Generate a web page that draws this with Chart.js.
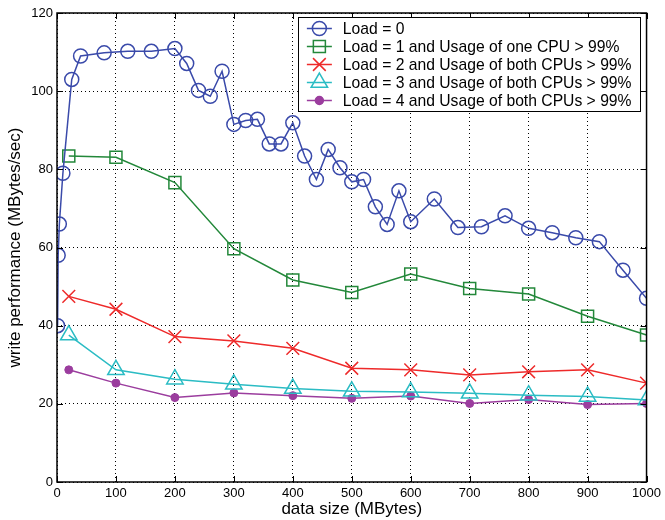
<!DOCTYPE html>
<html>
<head>
<meta charset="utf-8">
<script src="https://cdn.jsdelivr.net/npm/chart.js@4/dist/chart.umd.min.js"></script>
<style>
  html, body { margin: 0; padding: 0; background: #fff; }
  #wrap { width: 665px; height: 520px; }
</style>
</head>
<body>
<div id="wrap"><canvas id="grafico"></canvas></div>
<script>
// Dados
const xLoad0 = [1, 2, 4, 10, 25, 40, 80, 120, 160, 200, 220, 240, 260, 280, 300, 320, 340, 360, 380, 400,
                420, 440, 460, 480, 500, 520, 540, 560, 580, 600, 640, 680, 720, 760, 800, 840, 880, 920, 960, 1000];
const yLoad0 = [40, 58, 66, 79, 103, 109, 109.8, 110.2, 110.2, 110.9, 107.1, 100.2, 98.7, 105.1, 91.5, 92.5, 92.8, 86.5, 86.5, 91.9,
                83.4, 77.4, 85.1, 80.4, 76.8, 77.4, 70.4, 65.9, 74.5, 66.6, 72.4, 65.1, 65.3, 68.1, 64.9, 63.8, 62.5, 61.5, 54.2, 47.0];

const xLoads = [20, 100, 200, 300, 400, 500, 600, 700, 800, 900, 1000];
const yLoad1 = [83.4, 83.1, 76.6, 59.7, 51.7, 48.5, 53.2, 49.5, 48.1, 42.4, 37.6];
const yLoad2 = [47.5, 44.2, 37.2, 36.1, 34.2, 29.1, 28.7, 27.4, 28.2, 28.7, 25.3];
const yLoad3 = [37.6, 28.7, 26.3, 25.0, 23.9, 23.2, 23.0, 22.7, 22.2, 21.9, 21.0];
const yLoad4 = [28.7, 25.3, 21.6, 22.8, 22.1, 21.4, 22.0, 20.1, 21.1, 19.8, 20.1];

const labels = [
  'Load = 0',
  'Load = 1 and Usage of one CPU > 99%',
  'Load = 2 and Usage of both CPUs > 99%',
  'Load = 3 and Usage of both CPUs > 99%',
  'Load = 4 and Usage of both CPUs > 99%'
];

const xTitle = 'data size (MBytes)';
const yTitle = 'write performance (MBytes/sec)';

const FONT = "'Liberation Sans', Arial, Helvetica, sans-serif";

function pares(xs, ys) {
  return xs.map((x, i) => ({ x: x, y: ys[i] }));
}

// Legenda desenhada dentro da área do gráfico (estilo MATLAB)
const legendaInterna = {
  id: 'legendaInterna',
  afterDraw(chart) {
    const ctx = chart.ctx;
    const area = chart.chartArea;
    const sets = chart.data.datasets;
    ctx.save();
    ctx.font = '15.7px ' + FONT;
    let maxW = 0;
    sets.forEach(ds => { maxW = Math.max(maxW, ctx.measureText(ds.label).width); });
    const rowH = 18;
    const w = 45 + maxW + 8;
    const h = rowH * sets.length + 4;
    const right = area.right - 7;
    const top = area.top + 4;
    const left = right - w;
    ctx.fillStyle = '#fff';
    ctx.fillRect(left, top, w, h);
    ctx.strokeStyle = '#000';
    ctx.lineWidth = 1;
    ctx.strokeRect(Math.round(left) + 0.5, Math.round(top) + 0.5, Math.round(w), Math.round(h));
    sets.forEach((ds, i) => {
      const cy = top + 11.5 + i * rowH;
      ctx.strokeStyle = ds.borderColor;
      ctx.lineWidth = 1.5;
      ctx.beginPath();
      ctx.moveTo(left + 9, cy);
      ctx.lineTo(left + 34, cy);
      ctx.stroke();
      ctx.fillStyle = ds.pointBackgroundColor;
      ctx.strokeStyle = ds.borderColor;
      const opts = { pointStyle: ds.pointStyle, radius: ds.pointRadius, rotation: 0, borderWidth: 1.5 };
      if (Chart.helpers && Chart.helpers.drawPoint) {
        Chart.helpers.drawPoint(ctx, opts, left + 21.5, cy);
      }
      ctx.fillStyle = '#000';
      ctx.textBaseline = 'middle';
      ctx.textAlign = 'left';
      ctx.fillText(ds.label, left + 45, cy + 1);
    });
    ctx.restore();
  }
};

// Moldura com marcas internas
const moldura = {
  id: 'moldura',
  afterDatasetsDraw(chart) {
    const ctx = chart.ctx;
    const a = chart.chartArea;
    const sx = chart.scales.x, sy = chart.scales.y;
    ctx.save();
    ctx.strokeStyle = '#000';
    ctx.lineWidth = 1.5;
    ctx.strokeRect(a.left, a.top, a.right - a.left, a.bottom - a.top);
    ctx.lineWidth = 1;
    ctx.beginPath();
    sx.ticks.forEach(t => {
      const px = Math.round(sx.getPixelForValue(t.value)) + 0.5;
      ctx.moveTo(px, a.bottom); ctx.lineTo(px, a.bottom - 6);
      ctx.moveTo(px, a.top); ctx.lineTo(px, a.top + 6);
    });
    sy.ticks.forEach(t => {
      const py = Math.round(sy.getPixelForValue(t.value)) + 0.5;
      ctx.moveTo(a.left, py); ctx.lineTo(a.left + 6, py);
      ctx.moveTo(a.right, py); ctx.lineTo(a.right - 6, py);
    });
    ctx.stroke();
    ctx.restore();
  }
};

const ctx = document.getElementById('grafico').getContext('2d');

new Chart(ctx, {
  type: 'line',
  data: {
    datasets: [
      {
        label: labels[0],
        data: pares(xLoad0, yLoad0),
        borderColor: '#3a4aaa',
        pointBackgroundColor: 'rgba(0,0,0,0)',
        pointBorderColor: '#3a4aaa',
        pointStyle: 'circle',
        pointRadius: 7,
        pointBorderWidth: 1.5,
        borderWidth: 1.5
      },
      {
        label: labels[1],
        data: pares(xLoads, yLoad1),
        borderColor: '#23883a',
        pointBackgroundColor: 'rgba(0,0,0,0)',
        pointBorderColor: '#23883a',
        pointStyle: 'rect',
        pointRadius: 8.5,
        pointBorderWidth: 1.5,
        borderWidth: 1.5
      },
      {
        label: labels[2],
        data: pares(xLoads, yLoad2),
        borderColor: '#ee2a2a',
        pointBackgroundColor: 'rgba(0,0,0,0)',
        pointBorderColor: '#ee2a2a',
        pointStyle: 'crossRot',
        pointRadius: 9,
        pointBorderWidth: 1.5,
        borderWidth: 1.5
      },
      {
        label: labels[3],
        data: pares(xLoads, yLoad3),
        borderColor: '#2bbcc4',
        pointBackgroundColor: 'rgba(0,0,0,0)',
        pointBorderColor: '#2bbcc4',
        pointStyle: 'triangle',
        pointRadius: 9.5,
        pointBorderWidth: 1.5,
        borderWidth: 1.5
      },
      {
        label: labels[4],
        data: pares(xLoads, yLoad4),
        borderColor: '#9b3d9e',
        pointBackgroundColor: '#9b3d9e',
        pointBorderColor: '#9b3d9e',
        pointStyle: 'circle',
        pointRadius: 4,
        pointBorderWidth: 1,
        borderWidth: 1.5
      }
    ]
  },
  options: {
    responsive: true,
    maintainAspectRatio: false,
    animation: false,
    layout: { padding: { top: 13, right: 15, left: 0, bottom: 0 } },
    plugins: {
      legend: { display: false },
      tooltip: { enabled: false }
    },
    scales: {
      x: {
        type: 'linear',
        min: 0,
        max: 1000,
        afterFit: s => { s.height = 38; },
        ticks: {
          stepSize: 100, color: '#000', padding: 4, font: { family: FONT, size: 13 },
          callback: v => String(v)
        },
        grid: { color: '#000', lineWidth: 1, drawTicks: false },
        border: { display: false, dash: [1, 3] },
        title: { display: true, text: xTitle, color: '#000', padding: 0, font: { family: FONT, size: 17 } }
      },
      y: {
        min: 0,
        max: 120,
        afterFit: s => { s.width = 57; },
        ticks: { stepSize: 20, color: '#000', padding: 4, font: { family: FONT, size: 13 } },
        grid: { color: '#000', lineWidth: 1, drawTicks: false },
        border: { display: false, dash: [1, 3] },
        title: { display: true, text: yTitle, color: '#000', padding: { top: 5, bottom: 0 }, font: { family: FONT, size: 17 } }
      }
    }
  },
  plugins: [moldura, legendaInterna]
});
</script>
</body>
</html>
